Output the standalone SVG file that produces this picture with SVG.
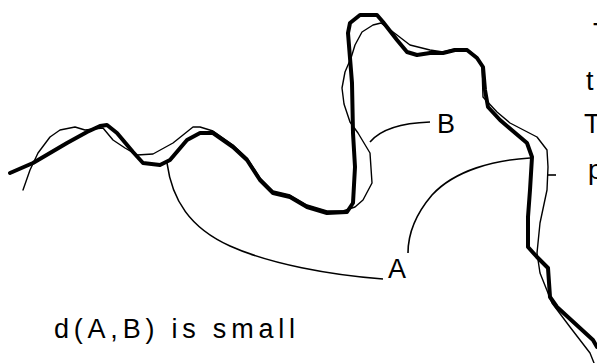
<svg xmlns="http://www.w3.org/2000/svg" width="597" height="363" viewBox="0 0 597 363">
  <style>
    .thick { fill: none; stroke: #000; stroke-width: 4; stroke-linejoin: round; stroke-linecap: round; }
    .thin { fill: none; stroke: #000; stroke-width: 1.4; stroke-linejoin: round; stroke-linecap: round; }
    .lead { fill: none; stroke: #000; stroke-width: 1.6; stroke-linecap: butt; }
    .lbl { font-family: "Liberation Sans", Arial, sans-serif; font-size: 27px; fill: #000; }
  </style>
  <rect width="597" height="363" fill="#fff"/>
  <g id="curve-B">
    <path class="thin" d="M23,190 L30,170 L38,153 L50,137 L60,130 L75,127 L85,130 L103,128 L113,140 L125,148 L137,155 L153,154 L173,143 L193,127 L200,127 L213,131 L233,145 L247,158 L260,178 L273,191 L290,195 L307,205 L327,211 L343,211 L355,207 L363,200 L372,183 L370,153 L358,133 L350,122 L344,104 L342,88 L345,72 L351,58 L355,45 L362,32 L373,25 L381,23 L397,35 L410,45 L430,50 L443,52 L455,49 L467,49 L477,57 L482,67 L483,97 L497,112 L510,123 L537,137 L547,150 L548,167 L547,190 L540,223 L537,253 L540,273 L552,303 L570,327 L590,353 L594,363"/>
  </g>
  <g id="curve-A">
    <path class="thick" d="M10,173 L33,163 L67,143 L87,132 L100,126 L107,125 L117,133 L133,152 L143,163 L160,165 L170,160 L187,140 L200,133 L213,133 L233,147 L247,160 L260,180 L273,193 L290,197 L307,207 L327,213 L347,212 L353,203 L355,167 L353,133 L352,83 L348,33 L350,23 L360,15 L377,15 L383,22 L397,40 L407,52 L417,55 L430,53 L443,53 L455,50 L467,50 L477,58 L483,67 L485,90 L488,107 L500,120 L527,143 L532,157 L530,190 L528,217 L528,247 L537,257 L548,268 L550,297 L557,307 L593,340 L597,347"/>
  </g>
  <g id="connectors">
    <path class="lead" d="M167,163 C172,200 190,228 230,246 C270,264 330,275 383,279"/>
    <path class="lead" d="M530,158 C495,160 455,170 432,195 C415,215 408,235 408,253"/>
    <path class="lead" d="M370,142 C380,130 400,123 430,122"/>
    <path class="lead" d="M548,175 H556"/>
  </g>
  <g id="label-A"><text class="lbl" x="388" y="278">A</text></g>
  <g id="label-B"><text class="lbl" x="437" y="133">B</text></g>
  <g id="caption"><text class="lbl" x="54" y="338" textLength="241" lengthAdjust="spacing">d(A,B) is small</text></g>
  <g id="right-text">
    <text class="lbl" x="593" y="42">T</text>
    <text class="lbl" x="586" y="90">t</text>
    <text class="lbl" x="584" y="133">T</text>
    <text class="lbl" x="588" y="179">p</text>
  </g>
</svg>
